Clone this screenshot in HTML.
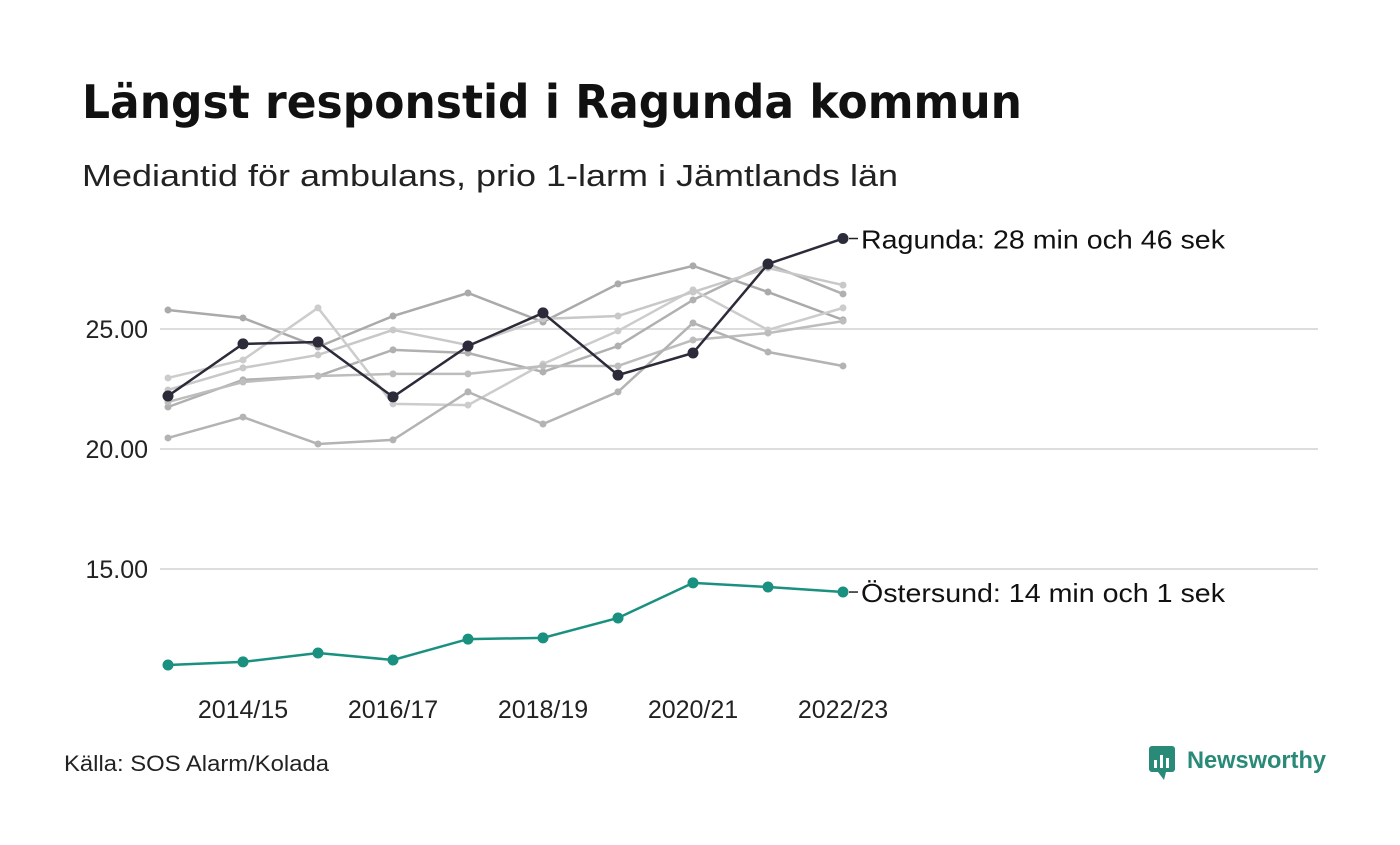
<!DOCTYPE html>
<html><head><meta charset="utf-8"><style>
body{margin:0;background:#fff;width:1400px;height:840px;overflow:hidden;font-family:"Liberation Sans",sans-serif}
</style></head><body>
<svg width="1400" height="840">
<text x="82" y="118" font-size="46" font-weight="bold" fill="#111" textLength="940" lengthAdjust="spacingAndGlyphs" font-family="DejaVu Sans, sans-serif">Längst responstid i Ragunda kommun</text>
<text x="82" y="186" font-size="31" fill="#222" textLength="816" lengthAdjust="spacingAndGlyphs">Mediantid för ambulans, prio 1-larm i Jämtlands län</text>
<g id="grid"></g><g id="gray"></g><g id="main"></g><g id="xt"></g>
<text x="64" y="771" font-size="22" fill="#222" textLength="265" lengthAdjust="spacingAndGlyphs">Källa: SOS Alarm/Kolada</text>
<g>
<rect x="1149" y="746" width="26" height="26" rx="3" fill="#2a8a78"/>
<polygon points="1158,772 1164,780 1166,772" fill="#2a8a78"/>
<rect x="1154" y="760" width="3" height="8" fill="#fff"/><rect x="1160" y="755" width="3" height="13" fill="#fff"/><rect x="1166" y="758" width="3" height="10" fill="#fff"/>
<text x="1187" y="768" font-size="24" font-weight="bold" fill="#2a8a78" textLength="139" lengthAdjust="spacingAndGlyphs">Newsworthy</text>
</g>
</svg>
<script>
const years=["2013/14","2014/15","2015/16","2016/17","2017/18","2018/19","2019/20","2020/21","2021/22","2022/23"];
const tickLabels=["2014/15","2016/17","2018/19","2020/21","2022/23"];
const yTicks=[25,20,15];
const gray1=[25.79,25.46,24.25,25.54,26.5,25.29,26.88,27.63,26.54,25.38];
const gray2=[21.75,22.88,23.04,24.13,24.0,23.21,24.29,26.21,27.71,26.46];
const gray3=[22.96,23.71,25.88,21.88,21.83,23.54,24.92,26.63,24.96,25.88];
const gray4=[22.46,23.38,23.92,24.96,24.33,25.42,25.54,26.54,27.54,26.83];
const gray5=[21.96,22.79,23.04,23.13,23.13,23.46,23.46,24.54,24.83,25.33];
const gray6=[20.46,21.33,20.21,20.38,22.38,21.04,22.38,25.25,24.04,23.46];
const ragunda=[22.21,24.38,24.46,22.17,24.29,25.67,23.08,24.0,27.71,28.77];
const ostersund=[11.0,11.13,11.5,11.21,12.08,12.13,12.96,14.42,14.25,14.04];
const NS="http://www.w3.org/2000/svg";
const X=i=>168+i*75, Y=v=>329-(v-25)*24;
function mk(t,a,p){const e=document.createElementNS(NS,t);for(const k in a)e.setAttribute(k,a[k]);p.appendChild(e);return e;}
const grid=document.getElementById('grid');
yTicks.forEach(v=>{
 const l=mk('line',{x1:160,x2:1318,y1:Y(v),y2:Y(v),stroke:'#ddd','stroke-width':2},grid);
 
 
 const t=mk('text',{x:148,y:Y(v)+9,'text-anchor':'end','font-size':25,fill:'#222'},grid);
 t.textContent=v.toFixed(2);
 
 
});
const xt=document.getElementById('xt');
tickLabels.forEach(lb=>{
 const t=mk('text',{x:X(years.indexOf(lb)),y:718,'text-anchor':'middle','font-size':25,fill:'#222'},xt);
 t.textContent=lb;
 
 
});
function series(vals,col,w,r,parent,name){
 const g=mk('g',{},parent);
 
 
 mk('polyline',{points:vals.map((v,i)=>X(i)+','+Y(v)).join(' '),fill:'none',stroke:col,'stroke-width':w},g);
 vals.forEach((v,i)=>{const c=mk('circle',{cx:X(i),cy:Y(v),r:r,fill:col},g);
  
  });
}
const gr=document.getElementById('gray');
const grays=[[gray1,'#aaa'],[gray2,'#b0b0b0'],[gray3,'#ccc'],[gray4,'#c8c8c8'],[gray5,'#bdbdbd'],[gray6,'#b3b3b3']];
grays.forEach((s,k)=>series(s[0],s[1],2.5,3.5,gr,'gray-line-'+(k+1)));
const mn=document.getElementById('main');
series(ragunda,'#2b2b3a',2.5,5.5,mn,'ragunda-line');
series(ostersund,'#1a9080',2.5,5.5,mn,'ostersund-line');
function lab(v,txt,name,len){
 mk('line',{x1:849,x2:858,y1:Y(v),y2:Y(v),stroke:'#222','stroke-width':1.5},mn);
 const t=mk('text',{x:861,y:Y(v)+10,'font-size':26,fill:'#111',textLength:len,lengthAdjust:'spacingAndGlyphs'},mn);
 t.textContent=txt;
 
 
}
lab(ragunda[9],'Ragunda: 28 min och 46 sek','ragunda-label',364);
lab(ostersund[9],'Östersund: 14 min och 1 sek','ostersund-label',364);
</script>
</body></html>
